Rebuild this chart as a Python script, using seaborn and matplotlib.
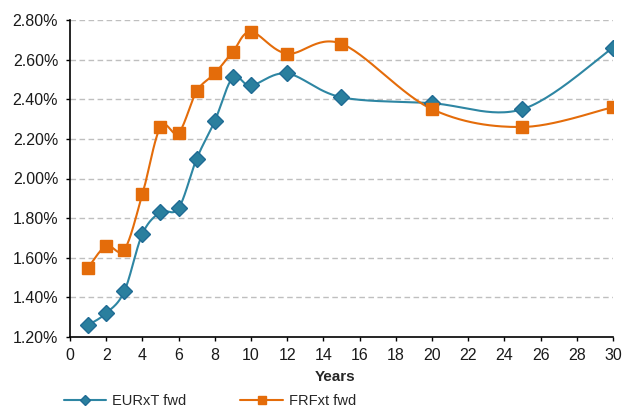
import numpy as np
import pandas as pd
import matplotlib
matplotlib.use("Agg")
import matplotlib.pyplot as plt
import seaborn as sns
from matplotlib.ticker import FuncFormatter, MultipleLocator
from matplotlib.lines import Line2D

# Forward rate curves by maturity (years)
years_eur = [1, 2, 3, 4, 5, 6, 7, 8, 9, 10, 12, 15, 20, 25, 30]
eurxt_fwd = [1.26, 1.32, 1.43, 1.72, 1.83, 1.85, 2.10, 2.29, 2.51, 2.47, 2.53, 2.41, 2.38, 2.35, 2.66]

years_frf = [1, 2, 3, 4, 5, 6, 7, 8, 9, 10, 12, 15, 20, 25, 30]
frfxt_fwd = [1.55, 1.66, 1.64, 1.92, 2.26, 2.23, 2.44, 2.53, 2.64, 2.74, 2.63, 2.68, 2.35, 2.26, 2.36]

series_names = ["EURxT fwd", "FRFxt fwd"]
line_colors = ["#2E86A3", "#E46C0A"]
marker_faces = ["#2A7F9E", "#E46C0A"]
marker_edges = ["#1F6B94", "#E46C0A"]
marker_shapes = ["D", "s"]
marker_sizes = [8.5, 9]


def smooth_curve(x, y, steps=30):
    """Bezier smoothing through every point (Catmull-Rom style tangents)."""
    x = np.asarray(x, float)
    y = np.asarray(y, float)
    pts = np.column_stack([x, y])
    n = len(pts)
    out = []
    for i in range(n - 1):
        p0 = pts[i - 1] if i > 0 else pts[i]
        p1 = pts[i]
        p2 = pts[i + 1]
        p3 = pts[i + 2] if i + 2 < n else pts[i + 1]
        c1 = p1 + (p2 - p0) / 6.0
        c2 = p2 - (p3 - p1) / 6.0
        t = np.linspace(0, 1, steps, endpoint=(i == n - 2))[:, None]
        seg = ((1 - t) ** 3) * p1 + 3 * ((1 - t) ** 2) * t * c1 + 3 * (1 - t) * t ** 2 * c2 + t ** 3 * p2
        out.append(seg)
    out = np.vstack(out)
    return out[:, 0], out[:, 1]


sns.set_theme(style="white")
plt.rcParams["font.family"] = ["Liberation Sans", "DejaVu Sans"]

fig = plt.figure(figsize=(6.22, 4.08), dpi=100)
ax = fig.add_axes([0.1125, 0.174, 0.873, 0.777])

for xs, ys, name, lc, mf, me, mk, ms in zip(
    [years_eur, years_frf], [eurxt_fwd, frfxt_fwd], series_names,
    line_colors, marker_faces, marker_edges, marker_shapes, marker_sizes,
):
    sx, sy = smooth_curve(xs, ys)
    curve = pd.DataFrame({"x": sx, "y": sy})
    sns.lineplot(data=curve, x="x", y="y", ax=ax, color=lc, linewidth=1.5,
                 sort=False, estimator=None, zorder=2)
    pts = pd.DataFrame({"x": xs, "y": ys})
    ax.plot(pts["x"], pts["y"], linestyle="none", marker=mk, markersize=ms,
            markerfacecolor=mf, markeredgecolor=me, markeredgewidth=1.0, zorder=3)

ax.set_xlim(0, 30)
ax.set_ylim(1.20, 2.80)
ax.xaxis.set_major_locator(MultipleLocator(2))
ax.yaxis.set_major_locator(MultipleLocator(0.2))
ax.yaxis.set_major_formatter(FuncFormatter(lambda v, p: f"{v:.2f}%"))

for yv in np.arange(1.4, 2.81, 0.2):
    ax.axhline(yv, color="#BFBFBF", linestyle=(0, (4, 2.5)), linewidth=1.0, zorder=1)

for side in ["top", "right"]:
    ax.spines[side].set_visible(False)
for side in ["left", "bottom"]:
    ax.spines[side].set_color("black")
    ax.spines[side].set_linewidth(1.2)

ax.tick_params(axis="both", direction="out", length=3, width=1.0, color="black",
               labelsize=11.5, labelcolor="#1A1A1A", left=True, bottom=True)
ax.tick_params(axis="y", pad=5.5)
ax.tick_params(axis="x", pad=5)
ax.set_ylabel("")
ax.set_xlabel("Years", fontsize=11, fontweight="bold", labelpad=0)
ax.xaxis.set_label_coords(0.488, -0.105)

handles = [
    Line2D([0], [0], color=line_colors[0], linewidth=1.5, marker="D", markersize=5,
           markerfacecolor=marker_faces[0], markeredgecolor=marker_edges[0]),
    Line2D([0], [0], color=line_colors[1], linewidth=1.5, marker="s", markersize=6,
           markerfacecolor=marker_faces[1], markeredgecolor=marker_edges[1]),
]
fig.legend(handles, series_names, loc="center left", bbox_to_anchor=(0.082, 0.017),
           ncol=2, frameon=False, fontsize=10.5, handlelength=2.9, handletextpad=0.4,
           columnspacing=3.7)

fig.savefig("out.png", dpi=100)
